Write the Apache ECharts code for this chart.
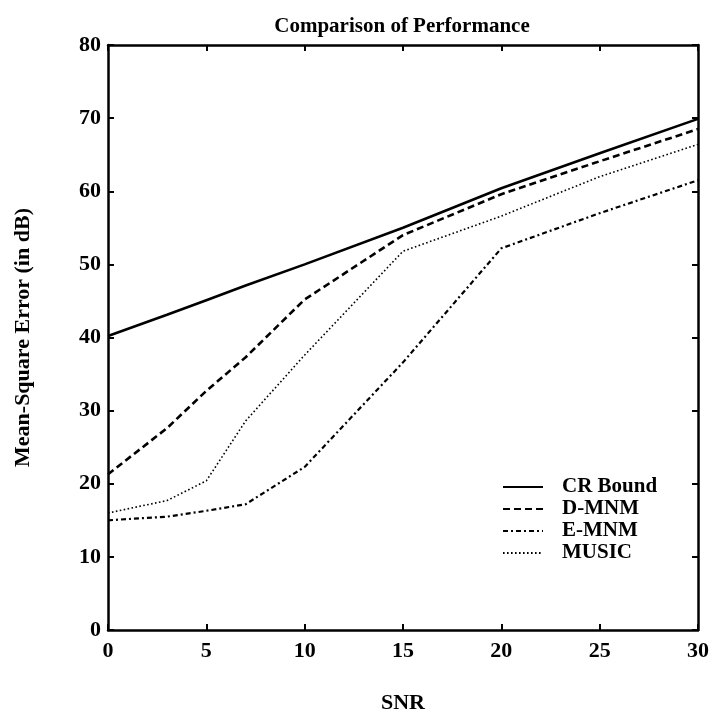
<!DOCTYPE html>
<html>
<head>
<meta charset="utf-8">
<script src="https://cdn.jsdelivr.net/npm/echarts@6/dist/echarts.min.js"></script>
<style>
html,body{margin:0;padding:0;background:#fff;}
#chart{width:712px;height:719px;}
</style>
</head>
<body>
<div id="chart"></div>
<script>
const snr = [0, 3, 5, 7, 10, 15, 20, 25, 30];
const crBound = [40.2, 43.1, 45.1, 47.1, 50, 55, 60.4, 65.2, 69.9];
const dMNM = [21.3, 27.6, 32.7, 37.3, 45.2, 54, 59.6, 64.1, 68.5];
const eMNM = [15, 15.5, 16.3, 17.2, 22.3, 36.6, 52.2, 57, 61.5];
const music = [16, 17.7, 20.4, 28.6, 37.6, 51.8, 56.6, 62, 66.4];
const seriesNames = ['CR Bound', 'D-MNM', 'E-MNM', 'MUSIC'];
const xTicks = [0, 5, 10, 15, 20, 25, 30];
const yTicks = [0, 10, 20, 30, 40, 50, 60, 70, 80];

const FONT = "'Liberation Serif', 'DejaVu Serif', serif";
const pair = (ys) => snr.map((x, i) => [x, ys[i]]);

const chart = echarts.init(document.getElementById('chart'), null, {renderer: 'canvas'});

const axisCommon = {
  type: 'value',
  axisLine: {show: true, onZero: false, lineStyle: {color: '#000', width: 2.5}},
  axisTick: {show: true, inside: true, length: 6, lineStyle: {color: '#000', width: 2}},
  splitLine: {show: false}
};

const option = {
  backgroundColor: '#fff',
  animation: false,
  title: {
    text: 'Comparison of Performance',
    left: 397,
    top: 11,
    textAlign: 'center',
    textStyle: {fontFamily: FONT, fontSize: 21, fontWeight: 'bold', color: '#000'}
  },
  grid: {left: 108, right: 14, top: 45, bottom: 86},
  legend: {
    orient: 'vertical',
    left: 502,
    top: 476,
    padding: 0,
    itemWidth: 40,
    itemHeight: 12,
    itemGap: 0,
    data: seriesNames,
    itemStyle: {opacity: 0},
    textStyle: {fontFamily: FONT, fontSize: 21, fontWeight: 'bold', color: '#000', lineHeight: 22, padding: [0, 0, 0, 14]}
  },
  xAxis: [
    Object.assign({}, axisCommon, {
      position: 'bottom', min: 0, max: 30, interval: 5,
      name: 'SNR', nameLocation: 'middle', nameGap: 62,
      nameTextStyle: {fontFamily: FONT, fontSize: 22, fontWeight: 'bold', color: '#000'},
      axisLabel: {show: true, margin: 10, fontFamily: FONT, fontSize: 22, fontWeight: 'bold', color: '#000',
        formatter: (v) => xTicks.includes(v) ? String(v) : ''}
    }),
    Object.assign({}, axisCommon, {
      position: 'top', min: 0, max: 30, interval: 5, axisLabel: {show: false}
    })
  ],
  yAxis: [
    Object.assign({}, axisCommon, {
      position: 'left', min: 0, max: 80, interval: 10,
      name: 'Mean-Square Error (in dB)', nameLocation: 'middle', nameGap: 74, nameRotate: 90,
      nameTextStyle: {fontFamily: FONT, fontSize: 22, fontWeight: 'bold', color: '#000'},
      axisLabel: {show: true, margin: 7, fontFamily: FONT, fontSize: 22, fontWeight: 'bold', color: '#000',
        formatter: (v) => yTicks.includes(v) ? String(v) : ''}
    }),
    Object.assign({}, axisCommon, {
      position: 'right', min: 0, max: 80, interval: 10, axisLabel: {show: false}
    })
  ],
  series: [
    {name: seriesNames[0], type: 'line', data: pair(crBound), symbol: 'none', color: '#000',
     lineStyle: {color: '#000', width: 2.6, type: 'solid'}},
    {name: seriesNames[1], type: 'line', data: pair(dMNM), symbol: 'none', color: '#000',
     lineStyle: {color: '#000', width: 2.6, type: [7, 4]}},
    {name: seriesNames[2], type: 'line', data: pair(eMNM), symbol: 'none', color: '#000',
     lineStyle: {color: '#000', width: 2.2, type: [5, 3, 2, 3]}},
    {name: seriesNames[3], type: 'line', data: pair(music), symbol: 'none', color: '#000',
     lineStyle: {color: '#000', width: 1.6, type: [1.6, 2.4]}}
  ]
};
chart.setOption(option);
</script>
</body>
</html>
